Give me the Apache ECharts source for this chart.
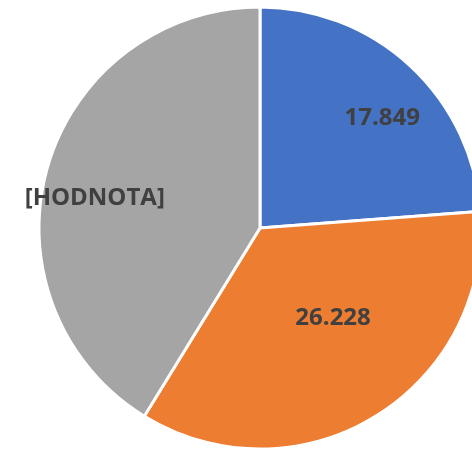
<!DOCTYPE html>
<html>
<head>
<meta charset="utf-8">
<script src="https://cdn.jsdelivr.net/npm/echarts@6/dist/echarts.min.js"></script>
<style>
  html, body { margin: 0; padding: 0; background: #fff; }
  #chart { width: 472px; height: 451px; }
</style>
</head>
<body>
<div id="chart"></div>
<script>
  // slice data
  const categories = ['A', 'B', 'C'];
  const values = [17.849, 26.228, 30.92];
  const labelTexts = ['17.849', '26.228', '[HODNOTA]'];
  const colors = ['#4472C4', '#ED7D31', '#A5A5A5'];

  // nudge labels from the slice midpoint to where they sit in the picture
  const labelShift = [[45, -27], [14, -7], [-56, 1]];

  const myChart = echarts.init(document.getElementById('chart'));
  myChart.setOption({
    animation: false,
    color: colors,
    series: [{
      type: 'pie',
      center: [260, 228],
      radius: [0, 221],
      startAngle: 90,
      clockwise: true,
      data: categories.map((c, i) => ({ name: c, value: values[i] })),
      itemStyle: {
        borderColor: '#ffffff',
        borderWidth: 3
      },
      label: {
        show: true,
        position: 'inside',
        color: '#404040',
        fontFamily: 'Open Sans',
        fontWeight: 'bold',
        fontSize: 24,
        formatter: function (p) {
          return labelTexts[p.dataIndex];
        }
      },
      labelLine: { show: false },
      labelLayout: function (p) {
        return { dx: labelShift[p.dataIndex][0], dy: labelShift[p.dataIndex][1] };
      }
    }]
  });
</script>
</body>
</html>
